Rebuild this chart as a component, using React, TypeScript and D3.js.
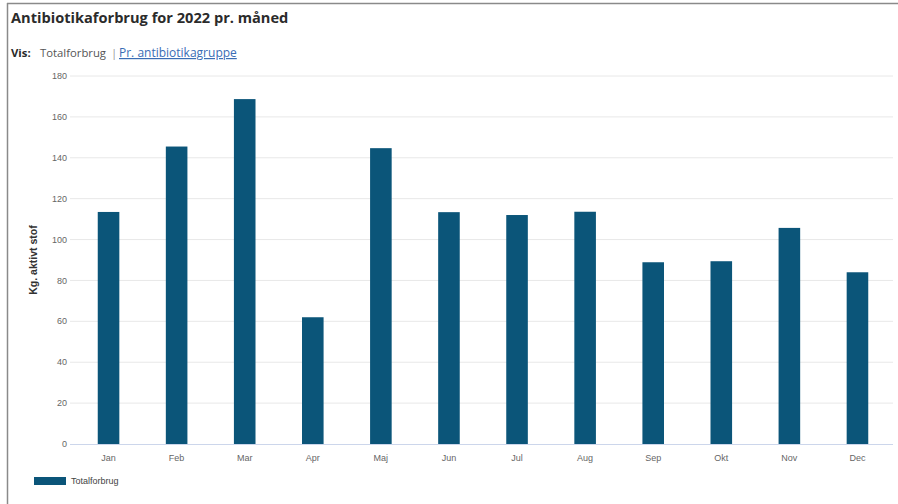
import React from "react";
import * as d3 from "d3";

const months = ["Jan", "Feb", "Mar", "Apr", "Maj", "Jun", "Jul", "Aug", "Sep", "Okt", "Nov", "Dec"];
const totalforbrug = [113.5, 145.5, 168.7, 62, 144.7, 113.4, 112, 113.6, 88.9, 89.4, 105.7, 84];
const yTicks = [0, 20, 40, 60, 80, 100, 120, 140, 160, 180];

const W = 898;
const H = 504;
const plot = { left: 70, right: 893, top: 76, bottom: 444 };
const barColor = "#0b5579";
const font = "'Liberation Sans', Arial, sans-serif";

export default function App() {
  const x = d3
    .scaleBand<string>()
    .domain(months)
    .range([74.5, 891.5])
    .paddingInner(0.683)
    .paddingOuter(0.3415);
  const y = d3.scaleLinear().domain([0, 180]).range([plot.bottom, plot.top]);

  return (
    <svg
      width={W}
      height={H}
      style={{ position: "absolute", left: 0, top: 0, background: "#fff" }}
      fontFamily={font}
    >
      {/* panel frame */}
      <line x1={7} y1={3.5} x2={W} y2={3.5} stroke="#8a8a8a" strokeWidth={1.5} />
      <line x1={7.5} y1={3} x2={7.5} y2={H} stroke="#8a8a8a" strokeWidth={1.5} />

      <text x={11} y={23} fontFamily="'Open Sans', sans-serif" fontWeight={700} fontSize={14.6} fill="#2b2b2b">
        Antibiotikaforbrug for 2022 pr. måned
      </text>
      <g fontFamily="'Open Sans', sans-serif" fontSize={11.3}>
        <text x={11} y={57} fontWeight={700} fill="#2b2b2b">Vis:</text>
        <text x={40} y={57} fill="#555">Totalforbrug</text>
        <text x={111} y={57} fill="#999">|</text>
        <text x={119} y={57} fontSize={12} fill="#3a6db5" textDecoration="underline">Pr. antibiotikagruppe</text>
      </g>

      {/* grid + y labels */}
      {yTicks.map((t) => (
        <g key={t}>
          {t > 0 && (
            <line x1={plot.left} x2={plot.right} y1={y(t)} y2={y(t)} stroke="#e8e8e8" strokeWidth={1} />
          )}
          <text x={67} y={y(t)} dy="0.35em" textAnchor="end" fontSize={9} fill="#666">
            {t}
          </text>
        </g>
      ))}

      <text
        transform={`translate(37,${(plot.top + plot.bottom) / 2}) rotate(-90)`}
        textAnchor="middle"
        fontSize={10.5}
        fontWeight={700}
        fill="#333"
      >
        Kg. aktivt stof
      </text>

      {/* bars */}
      {months.map((m, i) => (
        <rect
          key={m}
          x={x(m)}
          y={y(totalforbrug[i])}
          width={x.bandwidth()}
          height={plot.bottom - y(totalforbrug[i])}
          fill={barColor}
        />
      ))}

      {/* x axis */}
      <line x1={plot.left} x2={plot.right} y1={plot.bottom + 0.5} y2={plot.bottom + 0.5} stroke="#ccd6eb" />
      {months.map((m) => (
        <text key={m} x={(x(m) ?? 0) + x.bandwidth() / 2} y={461} textAnchor="middle" fontSize={9} fill="#666">
          {m}
        </text>
      ))}

      {/* legend */}
      <rect x={34} y={477} width={32} height={8} fill={barColor} />
      <text x={71} y={484} fontSize={9} fill="#444">
        Totalforbrug
      </text>
    </svg>
  );
}
